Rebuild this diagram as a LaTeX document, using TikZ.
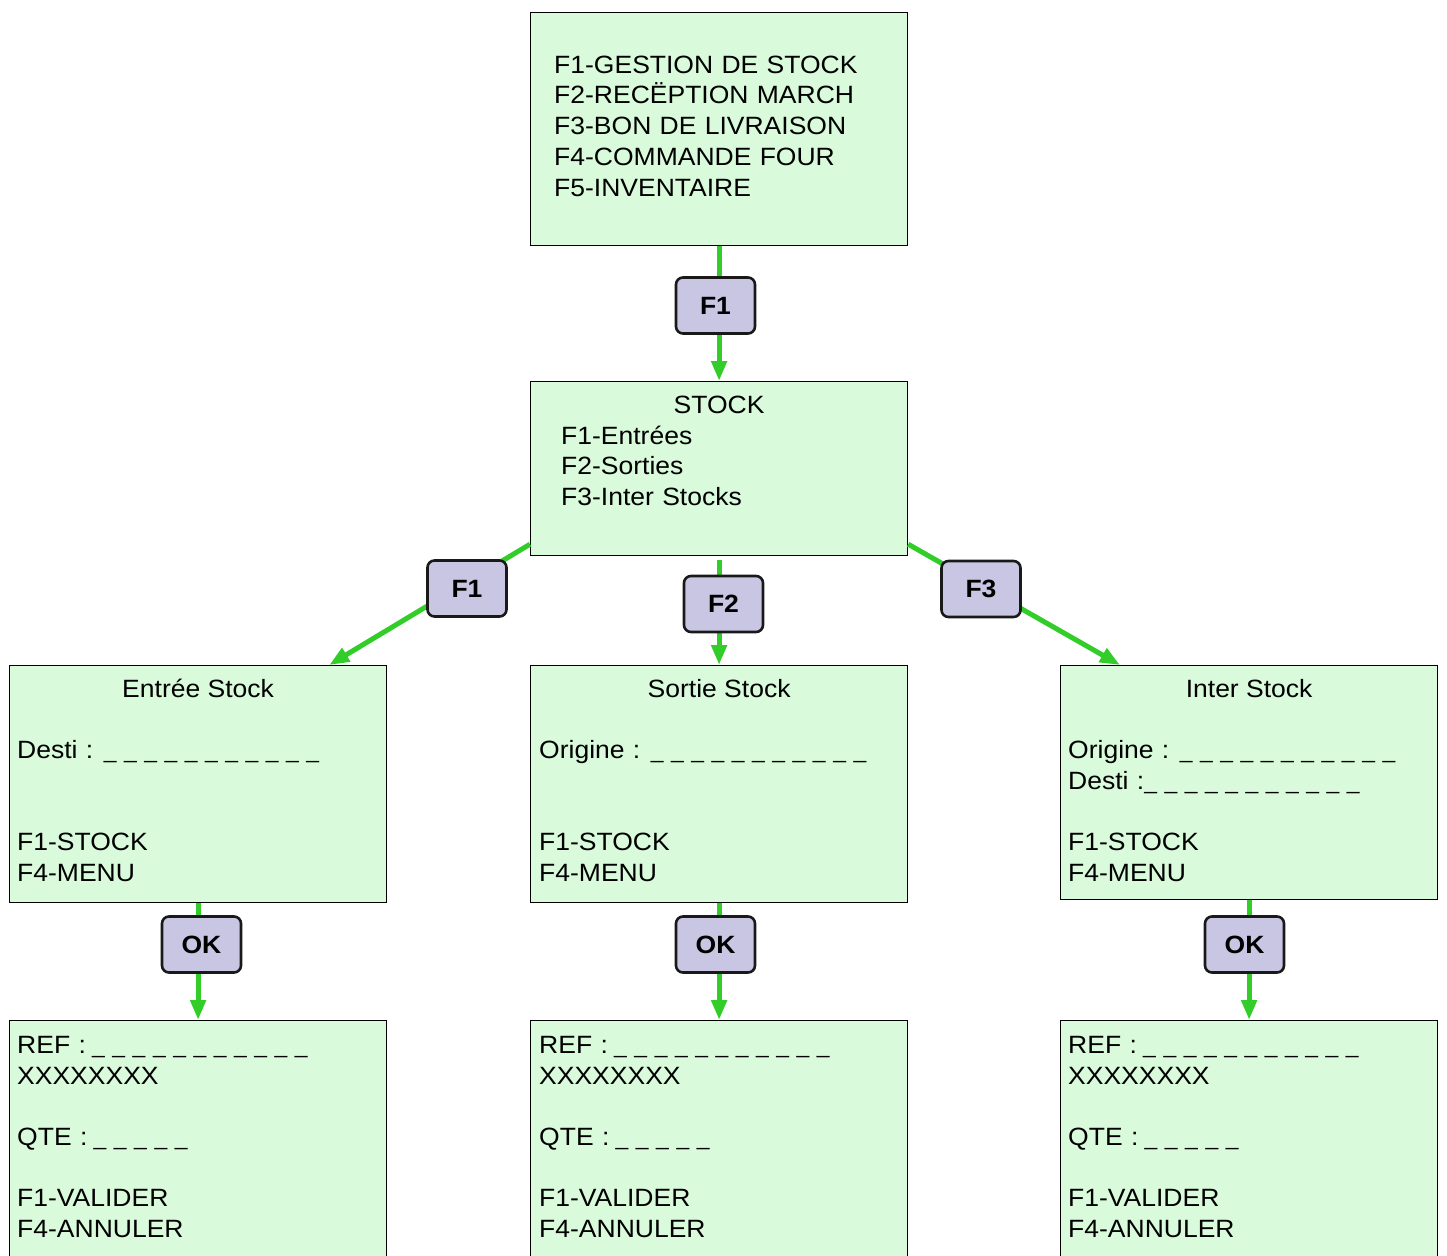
\documentclass[tikz,border=0pt]{standalone}
\usepackage{fontspec}
\setmainfont{Liberation Sans}[FakeStretch=1.06]
\usetikzlibrary{arrows.meta,calc}
\definecolor{screen-green}{RGB}{217,250,219}
\definecolor{key-lilac}{RGB}{200,198,226}
\definecolor{link-green}{RGB}{50,205,40}
\newcommand{\blanks}[1]{\hspace{-2pt}\foreach \i in {1,...,#1}{{\fontsize{21.5}{0}\selectfont\_}\hspace{7.6pt}}}
\tikzset{
    screen-box/.style = {draw=black, fill=screen-green, line width=1.2pt, rectangle, anchor=north west, inner sep=0pt, minimum width=377pt},
    screen-title/.style = {anchor=base, inner sep=0pt, font=\fontsize{25}{30.7}\selectfont},
    screen-text/.style = {anchor=base west, inner sep=0pt, text width=365pt, align=left, font=\fontsize{25}{30.7}\selectfont},
    key-box/.style = {draw=black!90, fill=key-lilac, line width=2.6pt, rectangle, rounded corners=7pt, minimum width=79pt, minimum height=56pt, inner sep=0pt, font=\fontsize{25}{30}\selectfont\bfseries},
    link/.style = {draw=link-green, line width=5pt, -{Triangle[length=20pt,width=15pt]}},
}

\begin{document}
\begin{tikzpicture}[x=1pt,y=-1pt]
\clip (0,0) rectangle (1447,1255);
% screens
\node[screen-box, minimum height=233pt] (menu) at (530,12) {};
\node[screen-box, minimum height=174pt] (stock) at (530,381) {};
\node[screen-box, minimum height=237pt] (entree) at (9,665) {};
\node[screen-box, minimum height=237pt] (sortie) at (530,665) {};
\node[screen-box, minimum height=234pt] (inter) at (1060,665) {};
\node[screen-box, minimum height=260pt] (entree-ref) at (9,1020) {};
\node[screen-box, minimum height=260pt] (sortie-ref) at (530,1020) {};
\node[screen-box, minimum height=260pt] (inter-ref) at (1060,1020) {};

% screen texts
\node[screen-text] (menu-text) at ($(menu.north west)+(24,61.3)$) {F1-GESTION DE STOCK\\F2-RECËPTION MARCH\\F3-BON DE LIVRAISON\\F4-COMMANDE FOUR\\F5-INVENTAIRE};
\node[screen-title] (stock-title) at ($(stock.north)+(0,32)$) {STOCK};
\node[screen-text] (stock-text) at ($(stock.north west)+(31,63)$) {F1-Entrées\\F2-Sorties\\F3-Inter Stocks};

\node[screen-title] (entree-title) at ($(entree.north)+(0,32)$) {Entrée Stock};
\node[screen-text] (entree-text) at ($(entree.north west)+(8,93.5)$) {Desti : \blanks{11}\\[61.4pt]F1-STOCK\\F4-MENU};
\node[screen-title] (sortie-title) at ($(sortie.north)+(0,32)$) {Sortie Stock};
\node[screen-text] (sortie-text) at ($(sortie.north west)+(9,93.5)$) {Origine : \blanks{11}\\[61.4pt]F1-STOCK\\F4-MENU};
\node[screen-title] (inter-title) at ($(inter.north)+(0,32)$) {Inter Stock};
\node[screen-text] (inter-text) at ($(inter.north west)+(8,93.5)$) {Origine : \blanks{11}\\Desti :\hspace{2pt}\blanks{11}\\[30.7pt]F1-STOCK\\F4-MENU};

\node[screen-text] (entree-ref-text) at ($(entree-ref.north west)+(8,33.3)$) {REF : \blanks{11}\\XXXXXXXX\\[30.7pt]QTE : \blanks{5}\\[30.7pt]F1-VALIDER\\F4-ANNULER};
\node[screen-text] (sortie-ref-text) at ($(sortie-ref.north west)+(9,33.3)$) {REF : \blanks{11}\\XXXXXXXX\\[30.7pt]QTE : \blanks{5}\\[30.7pt]F1-VALIDER\\F4-ANNULER};
\node[screen-text] (inter-ref-text) at ($(inter-ref.north west)+(8,33.3)$) {REF : \blanks{11}\\XXXXXXXX\\[30.7pt]QTE : \blanks{5}\\[30.7pt]F1-VALIDER\\F4-ANNULER};

% links
\draw[link] (menu.south) -- (stock.north);
\draw[link] ($(stock.south west)+(0,-12)$) -- ($(entree.north east)+(-58,0)$);
\draw[link] ($(stock.south)+(0,4)$) -- (sortie.north);
\draw[link] ($(stock.south east)+(0,-12)$) -- ($(inter.north west)+(60,0)$);
\draw[link] (entree.south) -- (entree-ref.north);
\draw[link] (sortie.south) -- (sortie-ref.north);
\draw[link] (inter.south) -- (inter-ref.north);

% keys
\node[key-box] (key-menu) at (715.5,305.5) {F1};
\node[key-box] (key-entree) at (467,588.5) {F1};
\node[key-box] (key-sortie) at (723.5,604) {F2};
\node[key-box] (key-inter) at (981,589) {F3};
\node[key-box] (ok-entree) at (201.5,944.5) {OK};
\node[key-box] (ok-sortie) at (715.5,944.5) {OK};
\node[key-box] (ok-inter) at (1244.5,944.5) {OK};
\end{tikzpicture}
\end{document}
